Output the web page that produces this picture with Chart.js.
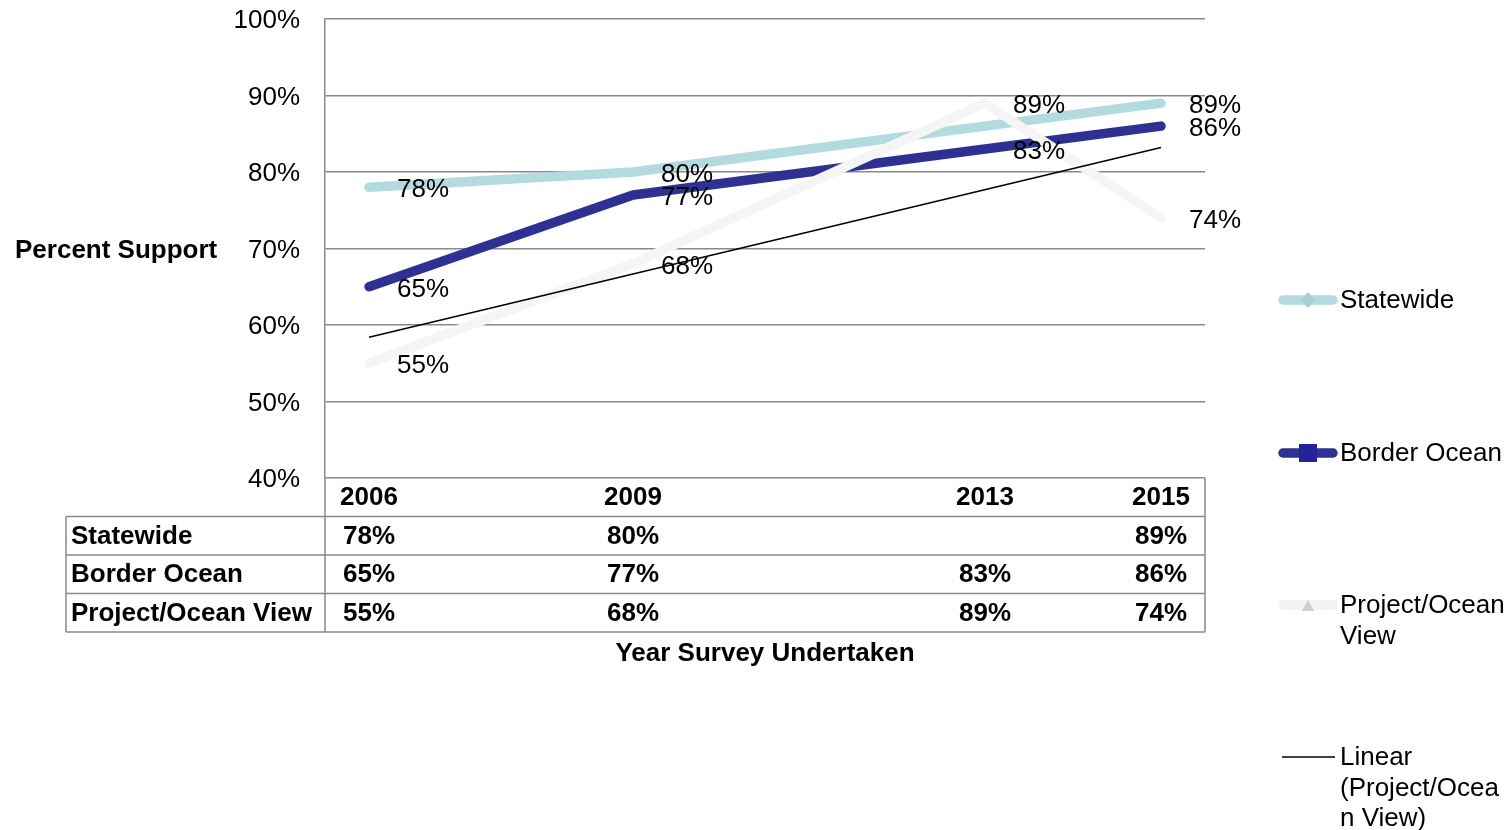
<!DOCTYPE html>
<html>
<head>
<meta charset="utf-8">
<script src="https://cdn.jsdelivr.net/npm/chart.js@4.4.1/dist/chart.umd.min.js"></script>
<style>
  html, body { margin: 0; padding: 0; background: #ffffff; overflow: hidden; }
  #wrap { width: 1511px; height: 830px; position: relative; }
</style>
</head>
<body>
<div id="wrap"><canvas id="chart" width="1511" height="830"></canvas></div>
<script>
// Survey years and results (percent support)
const years = [2006, 2009, 2013, 2015];
const statewide = [78, 80, null, 89];
const borderOcean = [65, 77, 83, 86];
const projectOceanView = [55, 68, 89, 74];

// Linear trend line of Project/Ocean View, at the first and last survey year
const trendYears = [2006, 2015];
const trendValues = [58.4, 83.2];

const seriesNames = ['Statewide', 'Border Ocean', 'Project/Ocean View'];
const trendName = 'Linear (Project/Ocean View)';
const yAxisTitle = 'Percent Support';
const xAxisTitle = 'Year Survey Undertaken';

const colors = {
  statewide: '#b3dbdf',
  border: '#2e3192',
  project: '#f5f5f5',
  trend: '#000000',
  grid: '#898989'
};

const FONT = '"Liberation Sans", Arial, Helvetica, sans-serif';

function toPoints(xs, ys) {
  return xs.map((x, i) => ({ x: x, y: ys[i] }));
}

const seriesValues = [statewide, borderOcean, projectOceanView];

// Value labels to the right of each point
const valueLabels = {
  id: 'valueLabels',
  afterDatasetsDraw(chart) {
    const ctx = chart.ctx;
    const xs = chart.scales.x, ys = chart.scales.y;
    ctx.save();
    ctx.font = '26px ' + FONT;
    ctx.fillStyle = '#000';
    ctx.textAlign = 'left';
    ctx.textBaseline = 'middle';
    seriesValues.forEach(vals => {
      vals.forEach((v, i) => {
        if (v === null) return;
        const px = xs.getPixelForValue(years[i]);
        const py = ys.getPixelForValue(v);
        ctx.fillText(v + '%', px + 28, py + 3);
      });
    });
    ctx.restore();
  }
};

// Data table under the plot, axis titles and the legend
const tableAndLegend = {
  id: 'tableAndLegend',
  afterDraw(chart) {
    const ctx = chart.ctx;
    const area = chart.chartArea;
    const xs = chart.scales.x;
    const rowH = 38.5;
    const labelLeft = 66;
    const top = area.bottom;
    const rowsBottom = top + rowH * 4;

    ctx.save();
    // table rules
    ctx.strokeStyle = colors.grid;
    ctx.lineWidth = 1.5;
    ctx.beginPath();
    for (let r = 1; r <= 4; r++) {
      const y = top + rowH * r;
      ctx.moveTo(labelLeft, y);
      ctx.lineTo(area.right, y);
    }
    ctx.moveTo(labelLeft, top + rowH);
    ctx.lineTo(labelLeft, rowsBottom);
    ctx.moveTo(area.left, top);
    ctx.lineTo(area.left, rowsBottom);
    ctx.moveTo(area.right, top);
    ctx.lineTo(area.right, rowsBottom);
    ctx.stroke();

    // header years and values
    ctx.fillStyle = '#000';
    ctx.font = 'bold 26px ' + FONT;
    ctx.textBaseline = 'middle';
    ctx.textAlign = 'center';
    years.forEach(yr => {
      ctx.fillText(String(yr), xs.getPixelForValue(yr), top + rowH * 0.5 + 1);
    });
    seriesValues.forEach((vals, r) => {
      const cy = top + rowH * (r + 1.5) + 1;
      ctx.textAlign = 'left';
      ctx.fillText(seriesNames[r], labelLeft + 5, cy);
      ctx.textAlign = 'center';
      vals.forEach((v, i) => {
        if (v === null) return;
        ctx.fillText(v + '%', xs.getPixelForValue(years[i]), cy);
      });
    });

    // axis titles
    ctx.textAlign = 'center';
    ctx.fillText(xAxisTitle, (area.left + area.right) / 2, rowsBottom + 22);
    ctx.textAlign = 'left';
    ctx.fillText(yAxisTitle, 15, (area.top + area.bottom) / 2 + 2);

    // legend
    const lx0 = 1283, lx1 = 1333, tx = 1340;
    ctx.font = '26px ' + FONT;
    ctx.textBaseline = 'middle';

    const items = [
      { y: 300, color: colors.statewide, width: 9.5, marker: 'diamond', markerColor: '#a3cfd3', text: [seriesNames[0]] },
      { y: 453, color: colors.border, width: 9.5, marker: 'square', markerColor: '#22229a', text: [seriesNames[1]] },
      { y: 605, color: '#f3f3f3', width: 10, marker: 'triangle', markerColor: '#cfcfcf', text: ['Project/Ocean', 'View'] },
      { y: 757, color: colors.trend, width: 1.5, marker: null, text: ['Linear', '(Project/Ocea', 'n View)'] }
    ];
    items.forEach(it => {
      ctx.strokeStyle = it.color;
      ctx.lineWidth = it.width;
      ctx.lineCap = it.marker ? 'round' : 'butt';
      ctx.beginPath();
      ctx.moveTo(it.marker ? lx0 : lx0 - 1, it.y);
      ctx.lineTo(it.marker ? lx1 : lx1 + 2, it.y);
      ctx.stroke();
      const mx = (lx0 + lx1) / 2;
      ctx.fillStyle = it.markerColor;
      if (it.marker === 'diamond') {
        ctx.beginPath();
        ctx.moveTo(mx, it.y - 8);
        ctx.lineTo(mx + 7, it.y);
        ctx.lineTo(mx, it.y + 8);
        ctx.lineTo(mx - 7, it.y);
        ctx.closePath();
        ctx.fill();
      } else if (it.marker === 'square') {
        ctx.fillRect(mx - 9, it.y - 9, 18, 18);
      } else if (it.marker === 'triangle') {
        ctx.beginPath();
        ctx.moveTo(mx, it.y - 5);
        ctx.lineTo(mx + 6, it.y + 6);
        ctx.lineTo(mx - 6, it.y + 6);
        ctx.closePath();
        ctx.fill();
      }
      ctx.fillStyle = '#000';
      it.text.forEach((t, k) => ctx.fillText(t, tx, it.y + 1 + k * 30.5));
    });
    ctx.restore();
  }
};

Chart.defaults.font.family = FONT;
Chart.defaults.color = '#000';

new Chart(document.getElementById('chart'), {
  type: 'line',
  data: {
    datasets: [
      {
        label: seriesNames[0],
        data: toPoints(years, statewide),
        borderColor: colors.statewide,
        borderWidth: 9.5,
        spanGaps: true,
        order: 4
      },
      {
        label: seriesNames[1],
        data: toPoints(years, borderOcean),
        borderColor: colors.border,
        borderWidth: 9.5,
        order: 3
      },
      {
        label: seriesNames[2],
        data: toPoints(years, projectOceanView),
        borderColor: colors.project,
        borderWidth: 9.5,
        order: 2
      },
      {
        label: trendName,
        data: toPoints(trendYears, trendValues),
        borderColor: colors.trend,
        borderWidth: 1.5,
        borderCapStyle: 'butt',
        order: 1
      }
    ]
  },
  options: {
    responsive: false,
    animation: false,
    devicePixelRatio: 1,
    layout: { padding: { top: 19, right: 306, bottom: 352, left: 0 } },
    elements: {
      point: { radius: 0, hoverRadius: 0 },
      line: { tension: 0, borderCapStyle: 'round', borderJoinStyle: 'round', fill: false }
    },
    plugins: {
      legend: { display: false },
      tooltip: { enabled: false }
    },
    scales: {
      x: {
        type: 'linear',
        min: 2005.5,
        max: 2015.5,
        display: false
      },
      y: {
        type: 'linear',
        min: 40,
        max: 100,
        afterFit(scale) {
          scale.width = 325;
          scale.paddingTop = 0;
          scale.paddingBottom = 0;
        },
        ticks: {
          stepSize: 10,
          padding: 25,
          labelOffset: 2,
          font: { size: 26, family: FONT },
          color: '#000',
          callback: v => v + '%'
        },
        grid: { color: colors.grid, lineWidth: 1.5, drawTicks: false },
        border: { color: colors.grid, width: 1.5 }
      }
    }
  },
  plugins: [valueLabels, tableAndLegend]
});
</script>
</body>
</html>
